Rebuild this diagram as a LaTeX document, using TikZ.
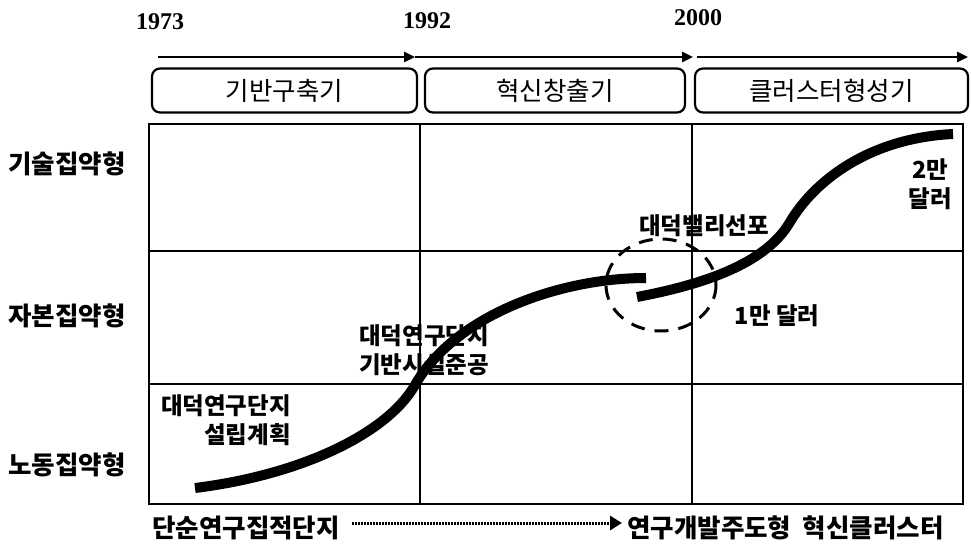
\documentclass[tikz,border=0pt]{standalone}
\usepackage{fontspec}
\setmainfont{Liberation Serif}
\newfontfamily\kr{Noto Sans CJK KR}
\usetikzlibrary{arrows.meta}
\begin{document}
\begin{tikzpicture}[x=1pt,y=-1pt,
  year/.style={font=\fontsize{24}{26}\selectfont\bfseries, inner sep=0pt},
  stagebox/.style={draw, line width=2.2pt, rounded corners=8pt, inner sep=0pt, font=\kr\fontsize{25.5}{27}\selectfont},
  rowlab/.style={font=\kr\bfseries\fontsize{25.5}{27}\selectfont, inner sep=0pt},
  botlab/.style={font=\kr\bfseries\fontsize{25.5}{27}\selectfont, inner sep=0pt},
  inlab/.style={font=\kr\bfseries\fontsize{23.5}{29}\selectfont, inner sep=0pt},
  timearrow/.style={line width=2.6pt, -{Triangle[length=11pt,width=10pt]}},
  gridline/.style={line width=1.8pt},
  trend/.style={line width=10pt},
  ring/.style={line width=3pt, dash pattern=on 14pt off 10pt}
]
\useasboundingbox[fill=white] (0,0) rectangle (971,555);

% years
\node[year] (y1973) at (160,22) {1973};
\node[year] (y1992) at (427,21) {1992};
\node[year] (y2000) at (698,18) {2000};

% time arrows
\coordinate (a0) at (158,57);
\coordinate (a1) at (415,57);
\coordinate (a2) at (693,57);
\coordinate (a3) at (968,57);
\draw[timearrow] (a0) -- (a1);
\draw[timearrow] (a1) -- (a2);
\draw[timearrow] ([xshift=4pt]a2) -- (a3);

% stage boxes
\node[stagebox, minimum width=265pt, minimum height=44pt] (s1) at (284.5,90.5) {기반구축기};
\node[stagebox, minimum width=260pt, minimum height=44pt] (s2) at (555,90.5) {혁신창출기};
\node[stagebox, minimum width=273pt, minimum height=44pt] (s3) at (831.5,90.5) {클러스터형성기};

% grid
\draw[gridline] (149,124) rectangle (963,504);
\draw[gridline] (420,124) -- (420,504);
\draw[gridline] (692,124) -- (692,504);
\draw[gridline] (149,251) -- (963,251);
\draw[gridline] (149,384) -- (963,384);

% row labels
\node[rowlab] (r1) at (67,164) {기술집약형};
\node[rowlab] (r2) at (67,316) {자본집약형};
\node[rowlab] (r3) at (67,465) {노동집약형};

% inner labels
\node[inlab, align=right, anchor=north east] (l1) at (291,394) {대덕연구단지\\설립계획};
\node[inlab, align=left, anchor=north west] (l2) at (359,324) {대덕연구단지\\기반시설준공};
\node[inlab] (l3) at (704,226) {대덕밸리선포};
\node[inlab] (l4) at (777,316) {1만 달러};
\node[inlab, align=center] (l5) at (930,184) {2만\\달러};

% trend curve
\draw[trend] (195,488) .. controls (300,475) and (387,434) .. (415,385)
  .. controls (455,315) and (560,278) .. (646,278);
\draw[trend] (637,297) .. controls (700,285) and (765,265) .. (790,222)
  .. controls (815,180) and (870,138) .. (953,134);

% dashed ring
\draw[ring] (661,285) ellipse [x radius=55, y radius=46];

% bottom
\node[botlab, anchor=west] (b1) at (152,528) {단순연구집적단지};
\node[botlab, anchor=west] (b2) at (627,528) {연구개발주도형\hspace{0.45em}혁신클러스터};
\draw[line width=3pt, dash pattern=on 1.5pt off 1.5pt, -{Triangle[length=12pt,width=14pt]}] ([xshift=12pt,yshift=5pt]b1.east) -- ([xshift=-5pt,yshift=5pt]b2.west);
\end{tikzpicture}
\end{document}
